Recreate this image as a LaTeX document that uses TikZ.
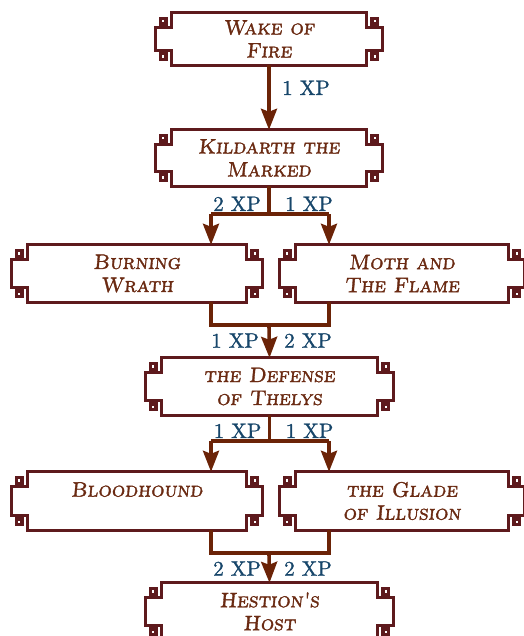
\documentclass[tikz,border=0pt]{standalone}
\usepackage{fontspec}
\usetikzlibrary{arrows.meta,calc,positioning}
\newfontfamily\roomfont{lmromancaps10-regular.otf}[FakeBold=1.6,FakeSlant=0.09]
\newfontfamily\xpfont{lmroman10-regular.otf}[FakeBold=1.2]
\definecolor{Frame}{HTML}{5E1A1D}
\definecolor{Rust}{HTML}{6A2A12}
\definecolor{Shaft}{HTML}{6B2307}
\definecolor{Slate}{HTML}{17466A}
\tikzset{
  room/.style={
    inner sep=0pt, align=center, text=Rust,
    font=\fontsize{21}{23}\selectfont\roomfont
  },
  frame/.style={draw=Frame, line width=3pt, line join=miter},
  knob/.style={fill=Frame},
  link/.style={draw=Shaft, line width=3.6pt, line join=miter},
  flow/.style={link, -{Stealth[length=21pt, width=16pt, inset=3pt]}},
  xp/.style={inner sep=0pt, text=Slate, font=\fontsize{21}{23}\selectfont\xpfont}
}
% fretted outline round a room node
\newcommand\fret[1]{%
  \draw[frame] (#1.north west) -- (#1.north east) -- ++(0,15) -- ++(16,0)
    -- ($(#1.south east)+(16,-15)$) -- ++(-16,0) -- (#1.south east)
    -- (#1.south west) -- ++(0,-15) -- ++(-16,0)
    -- ($(#1.north west)+(-16,15)$) -- ++(16,0) -- cycle;
  \foreach \c/\dx/\dy in {north east/1/1, north west/-1/1, south east/1/-1, south west/-1/-1}{
    \fill[knob] ($(#1.\c)+(4*\dx,4*\dy)$) rectangle ++(9*\dx,9*\dy);
    \fill[white] ($(#1.\c)+(7.5*\dx,7.5*\dy)$) rectangle ++(2.2*\dx,2.2*\dy);
  }
}

\begin{document}
\begin{tikzpicture}[x=1pt,y=-1pt]
    \useasboundingbox (0,0) rectangle (523,636);
    \node[room, minimum width=194pt, minimum height=52pt] (wake) at (269,39) {Wake of\\Fire};
    \node[room, minimum width=194pt, minimum height=56pt] (kildarth) at (269,158) {Kildarth the\\Marked};
    \node[room, minimum width=218pt, minimum height=57pt] (burning) at (137,273.5) {Burning\\Wrath};
    \node[room, minimum width=212pt, minimum height=57pt] (moth) at (402,273.5) {Moth and\\The Flame};
    \node[room, minimum width=215pt, minimum height=57pt] (defense) at (269.5,386.5) {the Defense\\of Thelys};
    \node[room, minimum width=218pt, minimum height=58pt] (bloodhound) at (137,501) {Bloodhound\\\phantom{B}};
    \node[room, minimum width=212pt, minimum height=58pt] (glade) at (402,501) {the Glade\\of Illusion};
    \node[room, minimum width=215pt, minimum height=57pt] (hestion) at (269.5,611.5) {Hestion's\\Host};
    \foreach \r in {wake,kildarth,burning,moth,defense,bloodhound,glade,hestion}
      \fret{\r};
    % first step
    \draw[flow] (wake.south) -- (kildarth.north);
    \node[xp, right=13pt] at ($(wake.south)!.35!(kildarth.north)$) {1 XP};
    % fork after kildarth
    \coordinate[below=28pt of kildarth] (fork1);
    \coordinate (fork1l) at ($(fork1)+(-58,0)$);
    \coordinate (fork1r) at ($(fork1)+(60,0)$);
    \draw[link] (kildarth.south) -- (fork1);
    \draw[link] (fork1l) -- (fork1r);
    \draw[flow] (fork1l) -- (fork1l |- burning.north);
    \draw[flow] (fork1r) -- (fork1r |- moth.north);
    \node[xp, above left=3pt and 8pt of fork1] {2 XP};
    \node[xp, above right=3pt and 16pt of fork1] {1 XP};
    % join before defense
    \coordinate (join1l) at ($(burning.south -| fork1l)+(0,23)$);
    \coordinate (join1r) at ($(moth.south -| fork1r)+(0,23)$);
    \coordinate (join1) at (fork1 |- join1l);
    \draw[link] (burning.south -| join1l) -- (join1l) -- (join1r) -- (moth.south -| join1r);
    \draw[flow] (join1) -- (defense.north);
    \node[xp, below left=8pt and 10pt of join1] {1 XP};
    \node[xp, below right=8pt and 15pt of join1] {2 XP};
    % fork after defense
    \coordinate[below=26pt of defense] (fork2);
    \coordinate (fork2l) at (fork2 -| fork1l);
    \coordinate (fork2r) at (fork2 -| fork1r);
    \draw[link] (defense.south) -- (fork2);
    \draw[link] (fork2l) -- (fork2r);
    \draw[flow] (fork2l) -- (fork2l |- bloodhound.north);
    \draw[flow] (fork2r) -- (fork2r |- glade.north);
    \node[xp, above left=3pt and 8pt of fork2] {1 XP};
    \node[xp, above right=3pt and 16pt of fork2] {1 XP};
    % join before hestion
    \coordinate (join2l) at ($(bloodhound.south -| fork1l)+(0,23)$);
    \coordinate (join2r) at ($(glade.south -| fork1r)+(0,23)$);
    \coordinate (join2) at (fork1 |- join2l);
    \draw[link] (bloodhound.south -| join2l) -- (join2l) -- (join2r) -- (glade.south -| join2r);
    \draw[flow] (join2) -- (hestion.north);
    \node[xp, below left=8pt and 8pt of join2] {2 XP};
    \node[xp, below right=8pt and 15pt of join2] {2 XP};
  \end{tikzpicture}
\end{document}
